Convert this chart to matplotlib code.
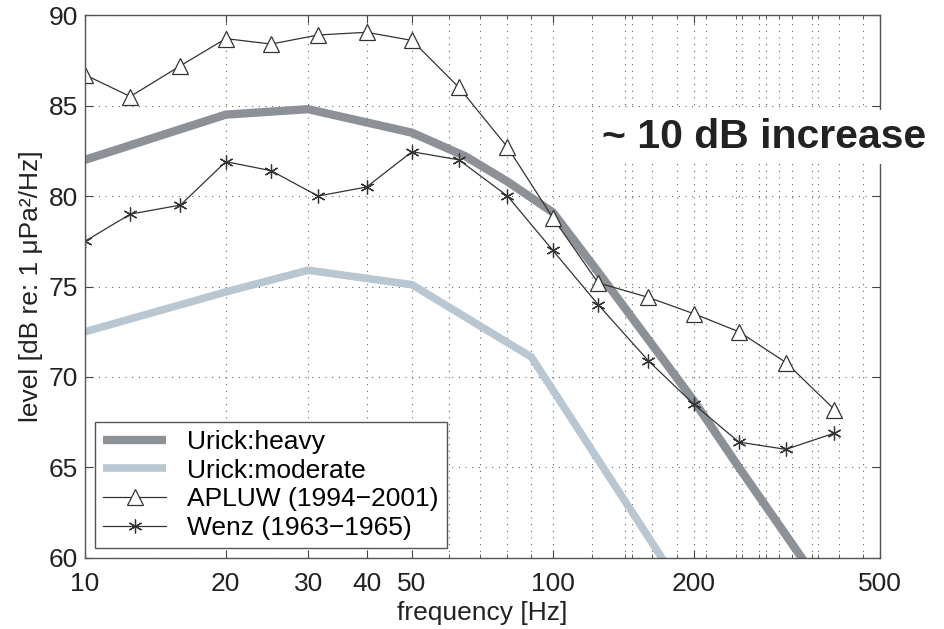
import matplotlib
matplotlib.use('AGG')
import matplotlib.pyplot as plt
from matplotlib.ticker import FixedLocator, NullFormatter

plt.rcParams['font.family'] = ['Liberation Sans', 'DejaVu Sans']

# 1/3-octave band centres for the measured curves
freqs = [10, 12.5, 16, 20, 25, 31.5, 40, 50, 63, 80, 100, 125, 160, 200, 250, 315, 400]
apluw = [86.7, 85.5, 87.2, 88.7, 88.4, 88.9, 89.05, 88.6, 86.0, 82.7, 78.8, 75.2, 74.4, 73.5, 72.5, 70.8, 68.2]
wenz = [77.5, 79.0, 79.5, 81.9, 81.4, 80.0, 80.5, 82.45, 82.0, 80.0, 77.0, 74.0, 70.9, 68.5, 66.4, 66.0, 66.9]

# Urick shipping-noise curves
heavy_f = [10, 20, 30, 50, 65, 80, 100, 125, 200, 250, 400]
heavy = [82.0, 84.5, 84.8, 83.5, 82.2, 80.8, 79.1, 75.8, 68.7, 65.0, 57.4]
moderate_f = [10, 20, 30, 50, 90, 200]
moderate = [72.5, 74.7, 75.9, 75.1, 71.1, 57.3]

major_ticks = [10, 20, 30, 40, 50, 100, 200, 500]
minor_ticks = [60, 70, 80, 90, 121, 143, 148, 163, 184, 213, 246, 254, 276, 286,
               305, 325, 359, 368, 410, 460]

fig = plt.figure(figsize=(9.44, 6.29), dpi=100)
ax = fig.add_axes([0.090, 0.113, 0.842, 0.863])

ax.plot(heavy_f, heavy, color='#8b9197', lw=6, solid_capstyle='butt', label='Urick:heavy')
ax.plot(moderate_f, moderate, color='#b8c7d1', lw=5.5, solid_capstyle='butt', label='Urick:moderate')
ax.plot(freqs, apluw, color='#333333', lw=0.9, marker='^', ms=11, mfc='white',
        mec='#333333', mew=0.9, label='APLUW (1994\u22122001)')
ax.plot(freqs, wenz, color='#333333', lw=0.9, marker=(6, 2, 0), ms=10,
        mec='#333333', mew=0.9, label='Wenz (1963\u22121965)')

ax.set_xscale('log')
ax.set_xlim(10, 500)
ax.set_ylim(60, 90)
ax.xaxis.set_major_locator(FixedLocator(major_ticks))
ax.xaxis.set_minor_locator(FixedLocator(minor_ticks))
ax.xaxis.set_minor_formatter(NullFormatter())
ax.set_xticklabels([str(t) for t in major_ticks])
ax.set_yticks([60, 65, 70, 75, 80, 85, 90])

ax.tick_params(which='both', direction='in', top=True, right=True, colors='#444444',
               labelcolor='#222222')
ax.tick_params(which='major', length=6, labelsize=19)
ax.tick_params(which='minor', length=3)
ax.tick_params(axis='x', which='major', pad=10)
ax.tick_params(axis='y', which='major', pad=5)

grid_kw = dict(color='#666666', lw=0.8, ls=(0, (1, 5)))
ax.grid(True, which='major', **grid_kw)
ax.grid(True, which='minor', axis='x', **grid_kw)

for s in ax.spines.values():
    s.set_color('#555555')
    s.set_linewidth(1.0)

ax.set_xlabel('frequency [Hz]', fontsize=19, color='#222222', labelpad=4)
ax.set_ylabel('level [dB re: 1 \u03bcPa\u00b2/Hz]', fontsize=19, color='#222222', labelpad=4)

leg = ax.legend(loc='lower left', bbox_to_anchor=(0.0126, 0.018), borderaxespad=0,
                fontsize=19, fancybox=False, framealpha=1, edgecolor='#555555',
                handlelength=2.4, borderpad=0.3, labelspacing=0.18, handletextpad=0.8)
leg.get_frame().set_linewidth(1.0)

fig.text(0.638, 1 - 137 / 629, '~ 10 dB increase', fontsize=29.5, fontweight='bold',
         color='#222222', ha='left', va='center',
         bbox=dict(facecolor='white', edgecolor='none', pad=6))

plt.savefig('out.png', dpi=100)
plt.close()
